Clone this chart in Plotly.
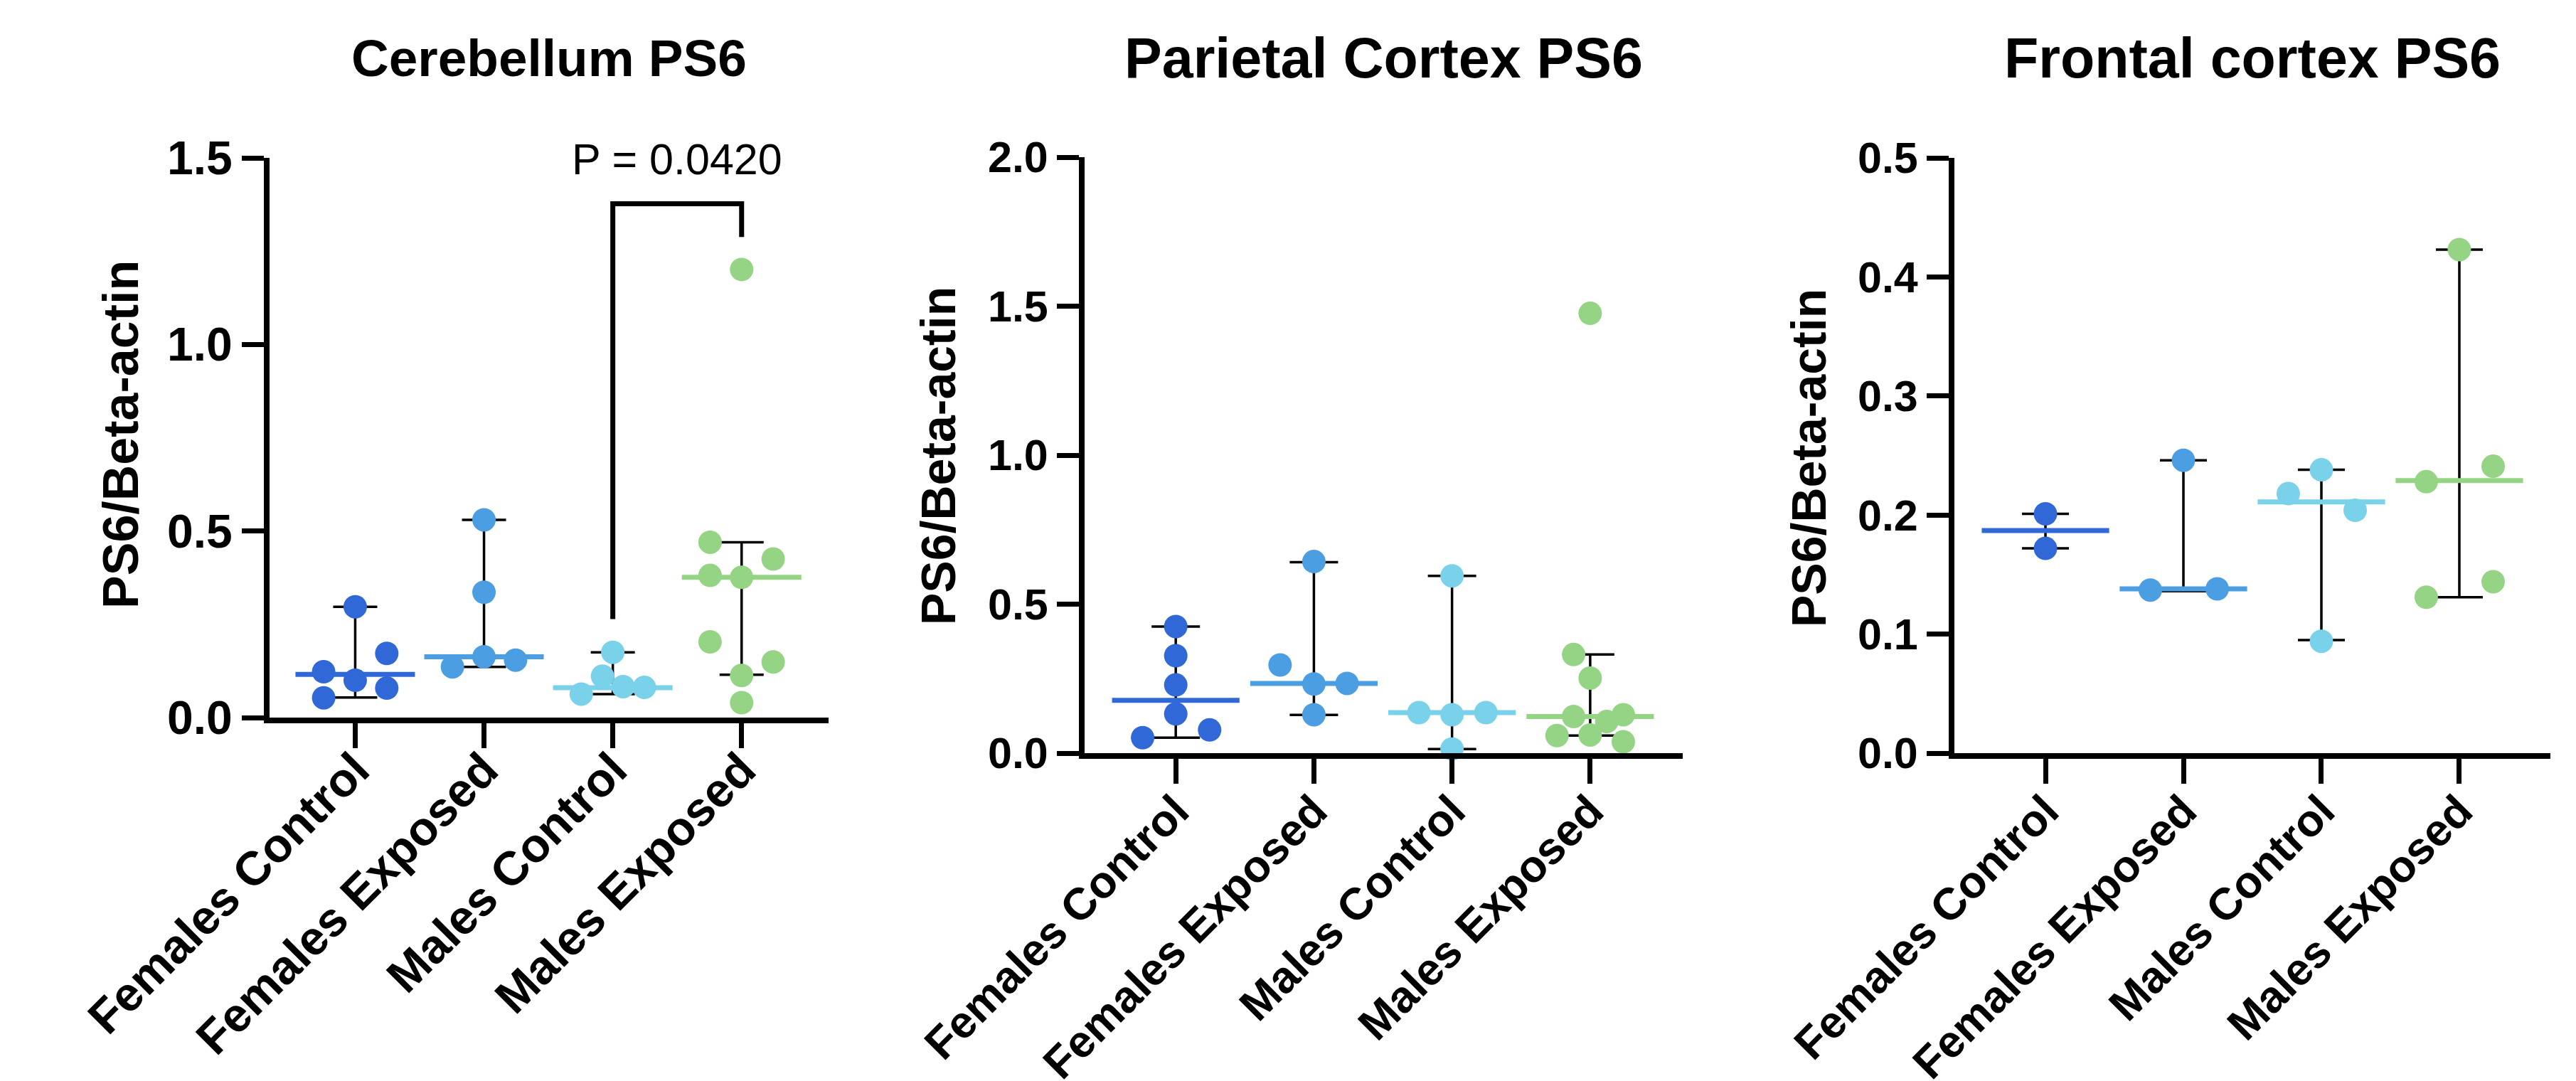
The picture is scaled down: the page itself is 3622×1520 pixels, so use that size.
import plotly.graph_objects as go

W, H = 3622, 1520
FONT = "Liberation Sans, Arial, Helvetica, sans-serif"

categories = ["Females Control", "Females Exposed", "Males Control", "Males Exposed"]
colors = ["#3068D7", "#4C9EE3", "#79D1EA", "#94D484"]

# ---------------- Cerebellum PS6 ----------------
cb_fc = [0.297, 0.123, 0.172, 0.100, 0.079, 0.053]
cb_fe = [0.530, 0.336, 0.163, 0.136, 0.154]
cb_mc = [0.175, 0.111, 0.063, 0.083, 0.081]
cb_me = [1.201, 0.470, 0.425, 0.381, 0.376, 0.203, 0.149, 0.113, 0.040]
cb_median = [0.116, 0.163, 0.080, 0.376]
cb_low = [0.054, 0.136, 0.063, 0.115]
cb_high = [0.297, 0.530, 0.175, 0.470]
cb_p_text = "P = 0.0420"
cb_bracket_y = [0.264, 1.377, 1.377, 1.288]

# ---------------- Parietal Cortex PS6 ----------------
pc_fc = [0.425, 0.327, 0.229, 0.132, 0.052, 0.078]
pc_fe = [0.643, 0.296, 0.232, 0.234, 0.129]
pc_mc = [0.595, 0.136, 0.129, 0.136, 0.014]
pc_me = [1.476, 0.331, 0.252, 0.123, 0.129, 0.106, 0.059, 0.061, 0.038]
pc_median = [0.177, 0.234, 0.136, 0.123]
pc_low = [0.052, 0.128, 0.014, 0.059]
pc_high = [0.425, 0.641, 0.595, 0.331]

# ---------------- Frontal cortex PS6 ----------------
fc_fc = [0.201, 0.172]
fc_fe = [0.246, 0.137, 0.138]
fc_mc = [0.238, 0.218, 0.204, 0.094]
fc_me = [0.423, 0.241, 0.228, 0.144, 0.131]
fc_median = [0.187, 0.138, 0.211, 0.229]
fc_low = [0.172, 0.136, 0.095, 0.131]
fc_high = [0.201, 0.246, 0.238, 0.423]

# horizontal scatter offsets of the dots (category units) - layout only
cb_dx = [[0, -0.245, 0.245, 0, 0.245, -0.245],
         [0, 0, 0, -0.245, 0.245],
         [0, -0.08, -0.245, 0.08, 0.245],
         [0, -0.245, 0.245, -0.245, 0, -0.245, 0.245, 0, 0]]
pc_dx = [[0, 0, 0, 0, -0.24, 0.245],
         [0, -0.245, 0, 0.24, 0],
         [0, -0.24, 0, 0.245, 0],
         [0, -0.12, 0, -0.12, 0.24, 0.12, -0.24, 0, 0.24]]
fc_dx = [[0, 0],
         [0, -0.24, 0.245],
         [0, -0.24, 0.245, 0],
         [0, 0.245, -0.24, 0.245, -0.24]]

panels = [
    dict(title="Cerebellum PS6", groups=[cb_fc, cb_fe, cb_mc, cb_me], dx=cb_dx,
         med=cb_median, lo=cb_low, hi=cb_high, yr=[0, 1.5], dtick=0.5,
         xpx=(371, 1157), ypx=(214, 1001), xr=[-0.665, 3.675],
         tfont=73, tickfont=66, xfont=67, ytfont=70, title_y=74, ytitle_x=162, ytitle_y=603,
         medw=120, capw=31, xstand=-36),
    dict(title="Parietal Cortex PS6", groups=[pc_fc, pc_fe, pc_mc, pc_me], dx=pc_dx,
         med=pc_median, lo=pc_low, hi=pc_high, yr=[0, 2.0], dtick=0.5,
         xpx=(1517, 2358), ypx=(213, 1051), xr=[-0.66, 3.67],
         tfont=79, tickfont=61, xfont=63, ytfont=68, title_y=74, ytitle_x=1311, ytitle_y=633,
         medw=128, capw=34, xstand=-24),
    dict(title="Frontal cortex PS6", groups=[fc_fc, fc_fe, fc_mc, fc_me], dx=fc_dx,
         med=fc_median, lo=fc_low, hi=fc_high, yr=[0, 0.5], dtick=0.1,
         xpx=(2740, 3578), ypx=(214, 1051), xr=[-0.66, 3.66],
         tfont=79, tickfont=61, xfont=63, ytfont=68, title_y=74, ytitle_x=2535, ytitle_y=636,
         medw=128, capw=33, xstand=-24),
]

fig = go.Figure()
annotations = []
layout = {}

for k, p in enumerate(panels):
    n = "" if k == 0 else str(k + 1)
    xa, ya = "x" + n, "y" + n
    # median + error bar (median line drawn as wide horizontal marker)
    for i in range(4):
        fig.add_trace(go.Scatter(
            x=[i], y=[p["med"][i]], xaxis=xa, yaxis=ya, mode="markers",
            marker=dict(symbol="line-ew", size=p["medw"],
                        line=dict(width=7, color=colors[i])),
            error_y=dict(type="data", symmetric=False,
                         array=[p["hi"][i] - p["med"][i]],
                         arrayminus=[p["med"][i] - p["lo"][i]],
                         color="black", thickness=3.5, width=p["capw"]),
            showlegend=False, hoverinfo="skip", cliponaxis=False))
    # dots
    for i, vals in enumerate(p["groups"]):
        fig.add_trace(go.Scatter(
            x=[i + d for d in p["dx"][i]], y=vals, xaxis=xa, yaxis=ya,
            mode="markers", marker=dict(size=33, color=colors[i], line=dict(width=0)),
            showlegend=False, cliponaxis=False))

    x0, x1 = p["xpx"]
    yt, yb = p["ypx"]
    layout["xaxis" + n] = dict(
        domain=[x0 / W, x1 / W], anchor=ya, range=p["xr"], automargin=False,
        tickmode="array", tickvals=[0, 1, 2, 3], ticktext=categories,
        tickangle=-45, ticks="outside", ticklen=35, tickwidth=7, tickcolor="black",
        ticklabelstandoff=p["xstand"],
        showline=True, linewidth=8, linecolor="black", showgrid=False, zeroline=False,
        tickfont=dict(family=FONT, size=p["xfont"], color="black", weight="bold"),
        fixedrange=True)
    layout["yaxis" + n] = dict(
        domain=[1 - yb / H, 1 - yt / H], anchor=xa, range=p["yr"], automargin=False,
        tick0=0, dtick=p["dtick"], tickformat=".1f",
        ticks="outside", ticklen=31, tickwidth=7, tickcolor="black",
        showline=True, linewidth=8, linecolor="black", showgrid=False, zeroline=False,
        tickfont=dict(family=FONT, size=p["tickfont"], color="black", weight="bold"),
        fixedrange=True)
    annotations.append(dict(
        text=p["title"], xref="paper", yref="paper",
        x=((x0 + x1) / 2) / W, y=1 - p["title_y"] / H, xanchor="center", yanchor="middle",
        showarrow=False, font=dict(family=FONT, size=p["tfont"], color="black", weight="bold")))
    annotations.append(dict(
        text="PS6/Beta-actin", xref="paper", yref="paper", textangle=-90,
        x=p["ytitle_x"] / W, y=1 - p["ytitle_y"] / H, xanchor="center", yanchor="middle",
        showarrow=False, font=dict(family=FONT, size=p["ytfont"], color="black", weight="bold")))

# significance bracket on the Cerebellum panel
fig.add_trace(go.Scatter(x=[2, 2, 3, 3], y=cb_bracket_y, xaxis="x", yaxis="y",
                         mode="lines", line=dict(color="black", width=7),
                         showlegend=False, hoverinfo="skip", cliponaxis=False))
annotations.append(dict(text=cb_p_text, xref="x", yref="y", x=2.5, y=1.497,
                        xanchor="center", yanchor="middle", showarrow=False,
                        font=dict(family=FONT, size=61, color="black")))

fig.update_layout(
    template="none",
    width=W, height=H, margin=dict(l=0, r=0, t=0, b=0, autoexpand=False),
    paper_bgcolor="white", plot_bgcolor="white",
    annotations=annotations, showlegend=False, **layout)

fig.write_html("out.html", config={"displayModeBar": False})
